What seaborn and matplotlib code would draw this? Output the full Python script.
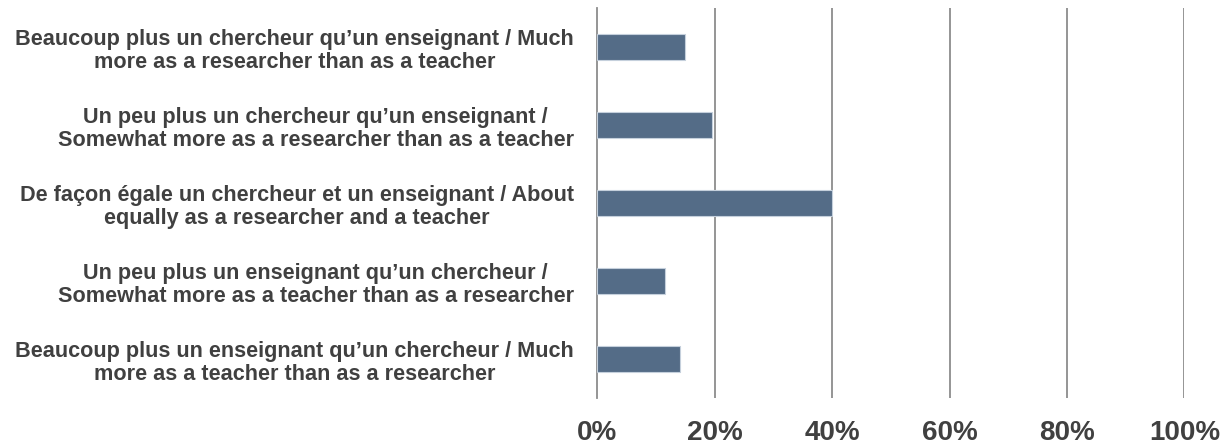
import matplotlib
matplotlib.use("Agg")
import pandas as pd
import seaborn as sns
import matplotlib.pyplot as plt
from matplotlib.ticker import FuncFormatter

categories = [
    "Beaucoup plus un chercheur qu\u2019un enseignant / Much\nmore as a researcher than as a teacher",
    "Un peu plus un chercheur qu\u2019un enseignant /\nSomewhat more as a researcher than as a teacher",
    "De fa\u00e7on \u00e9gale un chercheur et un enseignant / About\nequally as a researcher and a teacher",
    "Un peu plus un enseignant qu\u2019un chercheur /\nSomewhat more as a teacher than as a researcher",
    "Beaucoup plus un enseignant qu\u2019un chercheur / Much\nmore as a teacher than as a researcher",
]
shares = [15.0, 19.5, 40.0, 11.5, 14.0]
x_ticks = [0, 20, 40, 60, 80, 100]

df = pd.DataFrame({"cat": categories, "val": shares})

sns.set_style("white")
plt.rcParams['font.family'] = ['Liberation Sans', 'DejaVu Sans']

fig = plt.figure(figsize=(12.21, 4.48), dpi=100)
ax = fig.add_axes([0.4892, 0.1116, 0.4808, 0.8705])

sns.barplot(data=df, x="val", y="cat", orient="h", color="#546c87", saturation=1,
            width=0.34, edgecolor="#c5d0dc", linewidth=0.8, ax=ax, zorder=3)

ax.set_xlim(0, 100)
ax.set_xticks(x_ticks)
ax.xaxis.set_major_formatter(FuncFormatter(lambda v, p: f"{v:.0f}%"))
for x in x_ticks[1:]:
    ax.axvline(x, color="#8c8c8c", lw=1.3, zorder=1)
for s in ["top", "right", "bottom"]:
    ax.spines[s].set_visible(False)
ax.spines["left"].set_color("#8c8c8c")
ax.spines["left"].set_linewidth(1.3)
ax.set_xlabel("")
ax.set_ylabel("")
ax.tick_params(axis="x", length=0, pad=16, labelsize=20, labelcolor="#404040")
ax.tick_params(axis="y", length=0, pad=17, labelsize=15.6, labelcolor="#404040")
for lbl in ax.get_xticklabels():
    lbl.set_fontweight("bold")
for lbl in ax.get_yticklabels():
    lbl.set_fontweight("bold")
    lbl.set_multialignment("center")
    lbl.set_linespacing(1.15)

fig.savefig("out.png", dpi=100)
